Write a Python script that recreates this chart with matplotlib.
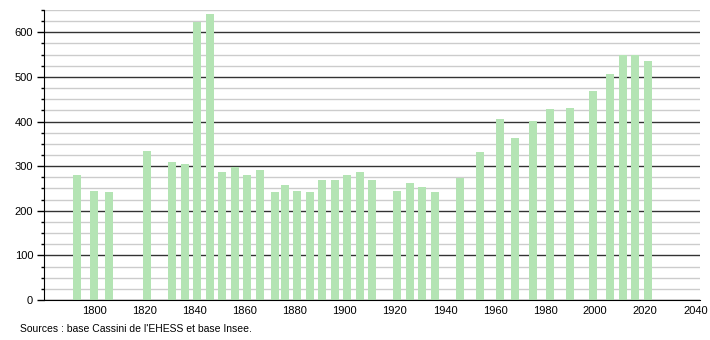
import matplotlib
matplotlib.use('Agg')
import matplotlib.pyplot as plt
from matplotlib.ticker import MultipleLocator

plt.rcParams['font.family'] = ['Liberation Sans', 'DejaVu Sans']

years = [1793, 1800, 1806, 1821, 1831, 1836, 1841, 1846, 1851, 1856,
         1861, 1866, 1872, 1876, 1881, 1886, 1891, 1896, 1901, 1906,
         1911, 1921, 1926, 1931, 1936, 1946, 1954, 1962, 1968, 1975,
         1982, 1990, 1999, 2006, 2011, 2016, 2021]
population = [281, 245, 241, 335, 310, 304, 624, 640, 286, 298,
              280, 292, 241, 257, 244, 241, 270, 270, 280, 288,
              268, 244, 262, 254, 241, 274, 331, 406, 363, 401,
              427, 430, 469, 506, 550, 550, 536]
xticks = list(range(1800, 2041, 20))
source = "Sources : base Cassini de l'EHESS et base Insee."

fig = plt.figure(figsize=(7.1, 3.4), dpi=100)
ax = fig.add_axes([0.0624, 0.1176, 0.924, 0.853])

ax.bar(years, population, width=3.2, color='#b4e4b4', zorder=3)

ax.set_xlim(1780, 2042)
ax.set_ylim(0, 650)
ax.set_xticks(xticks)
ax.yaxis.set_major_locator(MultipleLocator(100))
ax.yaxis.set_minor_locator(MultipleLocator(25))

ax.grid(axis='y', which='minor', color='#cccccc', lw=1, zorder=1)
ax.grid(axis='y', which='major', color='#333333', lw=1, zorder=2)
ax.set_axisbelow(True)

for s in ['top', 'right']:
    ax.spines[s].set_visible(False)
ax.spines['left'].set_color('black')
ax.spines['bottom'].set_color('black')
ax.spines['bottom'].set_zorder(4)

ax.tick_params(axis='x', length=0, pad=4, labelsize=8)
ax.tick_params(axis='y', which='major', length=5, width=1, labelsize=8, pad=3)
ax.tick_params(axis='y', which='minor', length=2.5, width=1)

fig.text(20 / 710, 1 - 329 / 340, source, fontsize=7.5, va='center', ha='left')

fig.savefig('out.png', dpi=100)
